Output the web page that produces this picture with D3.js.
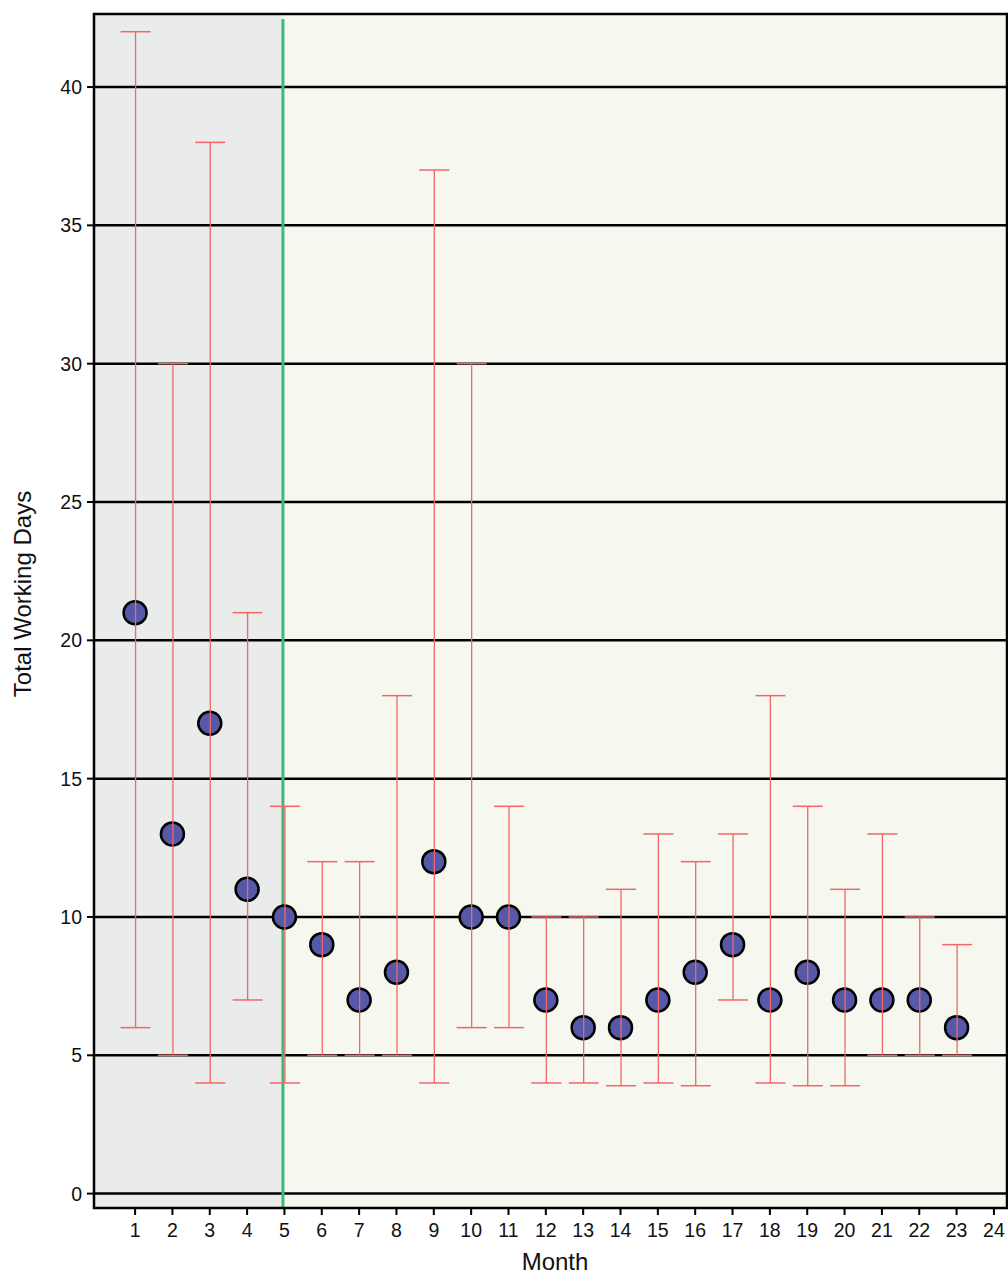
<!DOCTYPE html>
<html>
<head>
<meta charset="utf-8">
<script src="https://cdn.jsdelivr.net/npm/d3@7"></script>
<style>
  html, body { margin: 0; padding: 0; background: #fff; }
  text { font-family: "Liberation Sans", Arial, sans-serif; fill: #111; }
</style>
</head>
<body>
<div id="chart"></div>
<script>
// data
const months = [1,2,3,4,5,6,7,8,9,10,11,12,13,14,15,16,17,18,19,20,21,22,23];
const values = [21,13,17,11,10,9,7,8,12,10,10,7,6,6,7,8,9,7,8,7,7,7,6];
const lows   = [6,5,4,7,4,5,5,5,4,6,6,4,4,3.9,4,3.9,7,4,3.9,3.9,5,5,5];
const highs  = [42,30,38,21,14,12,12,18,37,30,14,10,10,11,13,12,13,18,14,11,13,10,9];
const xTicks = d3.range(1, 25);
const yTicks = [0,5,10,15,20,25,30,35,40];
const splitMonth = 5;

const W = 1008, H = 1276;
const plotL = 94, plotR = 1007, plotT = 14, plotB = 1208;

const svg = d3.select('#chart').append('svg')
  .attr('width', W).attr('height', H);

const x = d3.scaleLinear().domain([-0.1, 24.35]).range([plotL, plotR]);
const y = d3.scaleLinear().domain([-0.52, 42.64]).range([plotB, plotT]);

// backgrounds
const splitX = x(splitMonth) - 1.5;
svg.append('rect')
  .attr('x', plotL).attr('y', plotT)
  .attr('width', splitX - plotL).attr('height', plotB - plotT)
  .attr('fill', '#eaebeb');
svg.append('rect')
  .attr('x', splitX).attr('y', plotT)
  .attr('width', plotR - splitX).attr('height', plotB - plotT)
  .attr('fill', '#f6f8f0');

// gridlines
svg.append('g').selectAll('line')
  .data(yTicks).enter().append('line')
  .attr('x1', plotL).attr('x2', plotR)
  .attr('y1', d => y(d)).attr('y2', d => y(d))
  .attr('stroke', '#000').attr('stroke-width', 2.5);

// green divider
svg.append('line')
  .attr('x1', splitX).attr('x2', splitX)
  .attr('y1', plotT + 5).attr('y2', plotB)
  .attr('stroke', '#3dba78').attr('stroke-width', 3);

// points
svg.append('g').selectAll('circle')
  .data(months).enter().append('circle')
  .attr('cx', d => x(d))
  .attr('cy', (d, i) => y(values[i]))
  .attr('r', 11.5)
  .attr('fill', '#5559a8')
  .attr('stroke', '#000')
  .attr('stroke-width', 2.5);

// error bars (drawn over the points)
const red = '#f26666';
const capW = 15;
const eb = svg.append('g');
months.forEach(function (m, i) {
  const cx = x(m) + 0.5;
  eb.append('line')
    .attr('x1', cx).attr('x2', cx)
    .attr('y1', y(lows[i])).attr('y2', y(highs[i]))
    .attr('stroke', red).attr('stroke-width', 1.3);
  [lows[i], highs[i]].forEach(function (v) {
    eb.append('line')
      .attr('x1', cx - capW).attr('x2', cx + capW)
      .attr('y1', y(v)).attr('y2', y(v))
      .attr('stroke', red).attr('stroke-width', 1.5);
  });
});

// frame
svg.append('rect')
  .attr('x', plotL).attr('y', plotT)
  .attr('width', plotR - plotL).attr('height', plotB - plotT)
  .attr('fill', 'none')
  .attr('stroke', '#000').attr('stroke-width', 2.5);

// y axis ticks + labels
const yAxis = svg.append('g');
yTicks.forEach(function (t) {
  yAxis.append('line')
    .attr('x1', plotL - 7).attr('x2', plotL)
    .attr('y1', y(t)).attr('y2', y(t))
    .attr('stroke', '#000').attr('stroke-width', 2);
  yAxis.append('text')
    .attr('x', plotL - 12).attr('y', y(t))
    .attr('dy', '0.36em')
    .attr('text-anchor', 'end')
    .attr('font-size', 19.5)
    .text(t);
});

// x axis ticks + labels
const xAxis = svg.append('g');
xTicks.forEach(function (t) {
  xAxis.append('line')
    .attr('x1', x(t)).attr('x2', x(t))
    .attr('y1', plotB).attr('y2', plotB + 7)
    .attr('stroke', '#000').attr('stroke-width', 2);
  xAxis.append('text')
    .attr('x', x(t)).attr('y', plotB + 29)
    .attr('text-anchor', 'middle')
    .attr('font-size', 19.5)
    .text(t);
});

// axis titles
svg.append('text')
  .attr('transform', 'translate(31,594) rotate(-90)')
  .attr('text-anchor', 'middle')
  .attr('font-size', 24)
  .text('Total Working Days');

svg.append('text')
  .attr('x', 555).attr('y', 1270)
  .attr('text-anchor', 'middle')
  .attr('font-size', 24)
  .text('Month');
</script>
</body>
</html>
